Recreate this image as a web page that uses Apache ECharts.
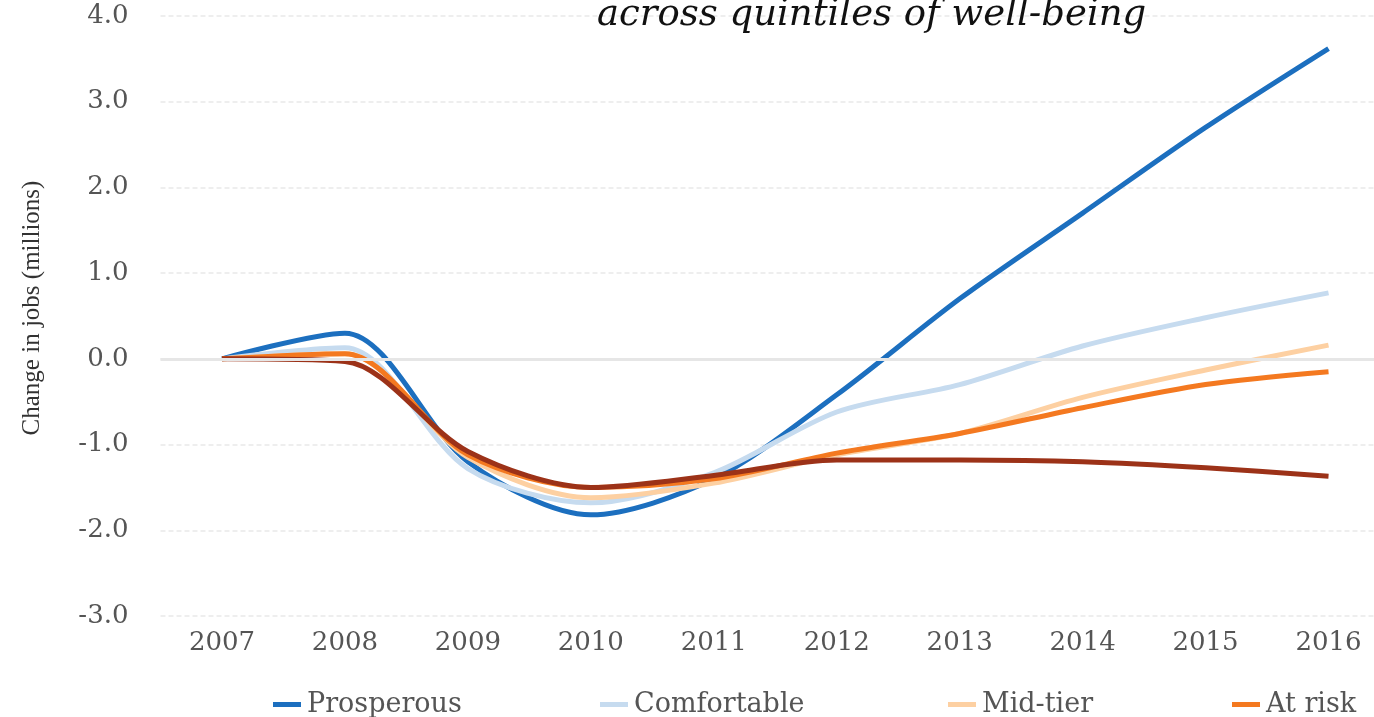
<!DOCTYPE html>
<html>
<head>
<meta charset="utf-8">
<title>Change in jobs across quintiles of well-being</title>
<script src="https://cdn.jsdelivr.net/npm/echarts@6/dist/echarts.min.js"></script>
<style>
  html, body { margin: 0; padding: 0; background: #ffffff; overflow: hidden; }
  /* the plot runs a little past the right edge of the window */
  #chart { width: 1390px; height: 717px; }
</style>
</head>
<body>
<div id="chart"></div>
<script>
// Years on the x axis
const years = ['2007', '2008', '2009', '2010', '2011', '2012', '2013', '2014', '2015', '2016'];

// Cumulative change in jobs since 2007, millions, by quintile of well-being
const prosperous  = [0, 0.30, -1.20, -1.82, -1.40, -0.42, 0.70, 1.70, 2.70, 3.62];
const comfortable = [0, 0.13, -1.28, -1.68, -1.33, -0.62, -0.30, 0.15, 0.48, 0.77];
const midTier     = [0, 0.06, -1.15, -1.62, -1.45, -1.12, -0.87, -0.45, -0.13, 0.16];
const atRisk      = [0, 0.06, -1.12, -1.50, -1.40, -1.10, -0.87, -0.57, -0.30, -0.15];
const distressed  = [0, -0.03, -1.08, -1.50, -1.36, -1.18, -1.18, -1.20, -1.27, -1.37];

// Y axis range and tick step
const yMin = -3;
const yMax = 4;
const yStep = 1;

const seriesDefs = [
  { name: 'Prosperous',  data: prosperous,  color: '#1c6fbf' },
  { name: 'Comfortable', data: comfortable, color: '#c6dbef' },
  { name: 'Mid-tier',    data: midTier,     color: '#fdd0a2' },
  { name: 'At risk',     data: atRisk,      color: '#f47920' },
  { name: 'Distressed',  data: distressed,  color: '#9c3218' }
];

const legendLefts = [273, 600, 948, 1232, 1520];

const chart = echarts.init(document.getElementById('chart'), null, { renderer: 'canvas' });

const labelFont = '"DejaVu Serif", Georgia, serif';

const option = {
  backgroundColor: '#ffffff',
  animation: false,
  title: {
    text: 'across quintiles of well-being',
    left: 597,
    top: -3,
    padding: 0,
    textStyle: {
      fontFamily: labelFont,
      fontStyle: 'italic',
      fontWeight: 'normal',
      fontSize: 37,
      color: '#111111'
    }
  },
  legend: seriesDefs.map((s, i) => ({
    data: [s.name],
    left: legendLefts[i],
    top: 691,
    icon: 'rect',
    itemWidth: 28,
    itemHeight: 5,
    itemGap: 0,
    padding: 0,
    textStyle: { fontFamily: labelFont, fontSize: 27, color: '#555555', padding: [0, 0, 0, 1] }
  })),
  grid: {
    left: 160.5,
    top: 16,
    right: 0,
    bottom: 101,
    containLabel: false
  },
  xAxis: {
    type: 'category',
    data: years,
    boundaryGap: true,
    axisLine: { show: false },
    axisTick: { show: false },
    splitLine: { show: false },
    axisLabel: {
      margin: 14,
      fontFamily: labelFont,
      fontSize: 26,
      color: '#555555'
    }
  },
  yAxis: {
    type: 'value',
    min: yMin,
    max: yMax,
    interval: yStep,
    name: 'Change in jobs (millions)',
    nameLocation: 'middle',
    nameGap: 116,
    nameTextStyle: {
      fontFamily: '"Liberation Serif", "Times New Roman", serif',
      fontSize: 25,
      color: '#333333',
      padding: [0, 0, 0, 16]
    },
    axisLine: { show: false },
    axisTick: { show: false },
    axisLabel: {
      margin: 32,
      fontFamily: labelFont,
      fontSize: 26,
      color: '#555555',
      formatter: v => v.toFixed(1)
    },
    splitLine: {
      show: true,
      lineStyle: { color: '#e9e9e9', width: 1.5, type: [5, 3] }
    }
  },
  series: [
    {
      // zero reference line underneath the data
      type: 'line',
      name: 'zero',
      data: [],
      z: 1,
      silent: true,
      markLine: {
        silent: true,
        symbol: 'none',
        label: { show: false },
        lineStyle: { color: '#e6e6e6', width: 3, type: 'solid' },
        data: [{ yAxis: 0 }]
      }
    }
  ].concat(seriesDefs.map(s => ({
    type: 'line',
    name: s.name,
    data: s.data,
    smooth: 0.3,
    showSymbol: false,
    symbol: 'none',
    z: 3,
    lineStyle: { color: s.color, width: 5 },
    itemStyle: { color: s.color }
  })))
};

chart.setOption(option);
</script>
</body>
</html>
